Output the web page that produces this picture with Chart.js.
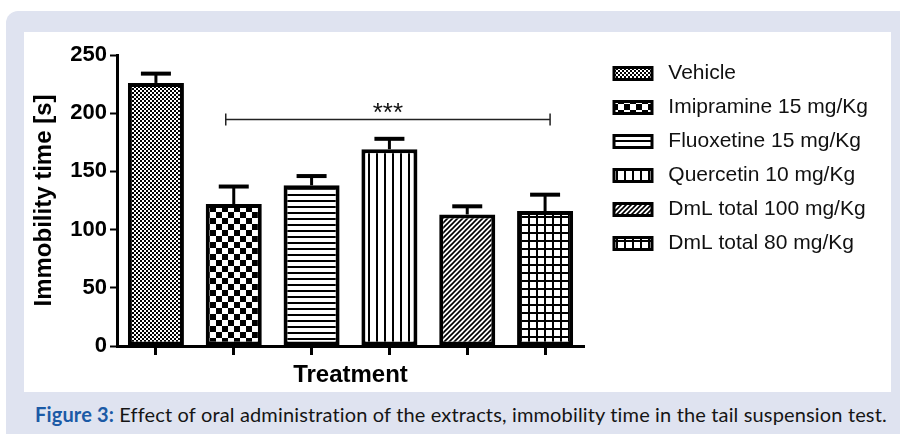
<!DOCTYPE html>
<html>
<head>
<meta charset="utf-8">
<script src="https://cdn.jsdelivr.net/npm/chart.js@4/dist/chart.umd.min.js"></script>
<style>
  html, body { margin: 0; padding: 0; width: 900px; height: 434px; overflow: hidden; background: #fff; }
  #frame { position: absolute; left: 6px; top: 11px; width: 920px; height: 450px; background: #dfe3f0; border-radius: 12px; }
  #panel { position: absolute; left: 24px; top: 32px; width: 867px; height: 360px; background: #fff; }
  #chart { display: block; }
  #caption { position: absolute; left: 35px; top: 402px; font-family: Lato, sans-serif; font-size: 20px; letter-spacing: 0.15px; font-variant-ligatures: none; color: #151515; white-space: nowrap; }
  #caption b { color: #1b5aa6; }
</style>
</head>
<body>
<div id="frame"></div>
<div id="panel"><canvas id="chart" width="867" height="360"></canvas></div>
<div id="caption"><b>Figure 3:</b> Effect of oral administration of the extracts, immobility time in the tail suspension test.</div>
<script>
// Treatment groups and measured immobility time (mean and SEM, seconds)
const categories = ['Vehicle', 'Imipramine 15 mg/Kg', 'Fluoxetine 15 mg/Kg', 'Quercetin 10 mg/Kg', 'DmL total 100 mg/Kg', 'DmL total 80 mg/Kg'];
const meanTime = [226, 122, 138, 169, 113, 116];
const semTime = [8, 15, 8, 9, 7, 14];
const yTicks = [0, 50, 100, 150, 200, 250];
const sigLabel = '***';
const sigFrom = 1, sigTo = 5, sigLevel = 195;

// Black-and-white fill patterns, one per group
function tile(w, h, draw) {
  const c = document.createElement('canvas');
  c.width = w; c.height = h;
  const g = c.getContext('2d');
  g.fillStyle = '#fff'; g.fillRect(0, 0, w, h);
  g.fillStyle = '#000'; g.strokeStyle = '#000';
  draw(g);
  return document.createElement('canvas').getContext('2d').createPattern(c, 'repeat');
}
const patterns = [
  tile(4, 4, g => { g.fillRect(0, 0, 2, 2); g.fillRect(2, 2, 2, 2); }),
  tile(12, 12, g => { g.fillRect(0, 0, 6, 6); g.fillRect(6, 6, 6, 6); }),
  tile(6, 6, g => { g.fillRect(0, 0, 6, 2); }),
  tile(8, 8, g => { g.fillRect(0, 0, 2, 8); }),
  tile(5, 5, g => { g.lineWidth = 1.6; g.beginPath(); g.moveTo(-1, 6); g.lineTo(6, -1); g.moveTo(-1, 1); g.lineTo(1, -1); g.moveTo(4, 6); g.lineTo(6, 4); g.stroke(); }),
  tile(8, 8, g => { g.fillRect(0, 0, 8, 2); g.fillRect(0, 0, 2, 8); })
];

const errorBars = {
  id: 'errorBars',
  afterDatasetsDraw(chart) {
    const ctx = chart.ctx, y = chart.scales.y;
    chart.getDatasetMeta(0).data.forEach((bar, i) => {
      const top = y.getPixelForValue(meanTime[i] + semTime[i]);
      ctx.save();
      ctx.strokeStyle = '#000';
      ctx.lineWidth = 3;
      ctx.beginPath(); ctx.moveTo(bar.x, bar.y); ctx.lineTo(bar.x, top); ctx.stroke();
      ctx.lineWidth = 4;
      ctx.beginPath(); ctx.moveTo(bar.x - 15, top); ctx.lineTo(bar.x + 15, top); ctx.stroke();
      ctx.restore();
    });
  }
};

const significance = {
  id: 'significance',
  afterDatasetsDraw(chart) {
    const ctx = chart.ctx, x = chart.scales.x, y = chart.scales.y;
    const x0 = x.getPixelForValue(sigFrom) - 8, x1 = x.getPixelForValue(sigTo) + 5;
    const yy = Math.round(y.getPixelForValue(sigLevel)) + 0.5;
    ctx.save();
    ctx.strokeStyle = '#222'; ctx.lineWidth = 1.5;
    ctx.beginPath();
    ctx.moveTo(x0, yy); ctx.lineTo(x1, yy);
    ctx.moveTo(x0, yy - 6); ctx.lineTo(x0, yy + 6);
    ctx.moveTo(x1, yy - 6); ctx.lineTo(x1, yy + 6);
    ctx.stroke();
    ctx.fillStyle = '#111';
    ctx.font = '26px "Liberation Sans"';
    ctx.textAlign = 'center'; ctx.textBaseline = 'alphabetic';
    ctx.fillText(sigLabel, (x0 + x1) / 2, yy + 1);
    ctx.restore();
  }
};

const axisFont = { family: 'Liberation Sans', size: 24, weight: 'bold' };

new Chart(document.getElementById('chart'), {
  type: 'bar',
  data: {
    labels: categories,
    datasets: [{
      data: meanTime,
      backgroundColor: patterns,
      borderColor: '#000',
      borderWidth: 4,
      borderSkipped: false,
      categoryPercentage: 1,
      barPercentage: 0.72
    }]
  },
  options: {
    responsive: false,
    animation: false,
    devicePixelRatio: 1,
    layout: { padding: { left: 0, top: 18, right: 20, bottom: 0 } },
    plugins: {
      tooltip: { enabled: false },
      legend: {
        position: 'right',
        align: 'start',
        maxWidth: 270,
        onClick: null,
        labels: {
          font: { family: 'Liberation Sans', size: 21 },
          color: '#111',
          boxWidth: 38,
          boxHeight: 12,
          padding: 13,
          generateLabels: () => categories.map((name, i) => ({
            text: ' ' + name, fillStyle: patterns[i], strokeStyle: '#000', lineWidth: 3,
            hidden: false, index: i, fontColor: '#111'
          }))
        }
      }
    },
    scales: {
      x: {
        grid: { display: true, drawOnChartArea: false, drawTicks: true, tickLength: 9, tickWidth: 3, tickColor: '#000', offset: false },
        border: { display: true, color: '#000', width: 3 },
        ticks: { display: false },
        title: { display: true, text: 'Treatment', font: axisFont, color: '#000', padding: { top: 0, bottom: 2 } },
        afterFit: s => { s.height = 46; }
      },
      y: {
        min: 0, max: 250,
        afterBuildTicks: s => { s.ticks = yTicks.map(v => ({ value: v })); },
        grid: { drawOnChartArea: false, tickLength: 7, tickWidth: 2, tickColor: '#000' },
        border: { display: true, color: '#000', width: 3 },
        ticks: { font: { family: 'Liberation Sans', size: 22, weight: 'bold' }, color: '#000', padding: 3 },
        title: { display: true, text: 'Immobility time [s]', font: axisFont, color: '#000', padding: { top: 6, bottom: 0 } },
        afterFit: s => { s.width = 93; }
      },
      gap: {
        type: 'linear', position: 'right', display: true,
        grid: { display: false }, border: { display: false }, ticks: { display: false },
        afterFit: s => { s.width = 17; }
      },
      headroom: {
        type: 'linear', position: 'top', display: true,
        grid: { display: false }, border: { display: false }, ticks: { display: false },
        afterFit: s => { s.height = 5; }
      }
    }
  },
  plugins: [errorBars, significance]
});
</script>
</body>
</html>
